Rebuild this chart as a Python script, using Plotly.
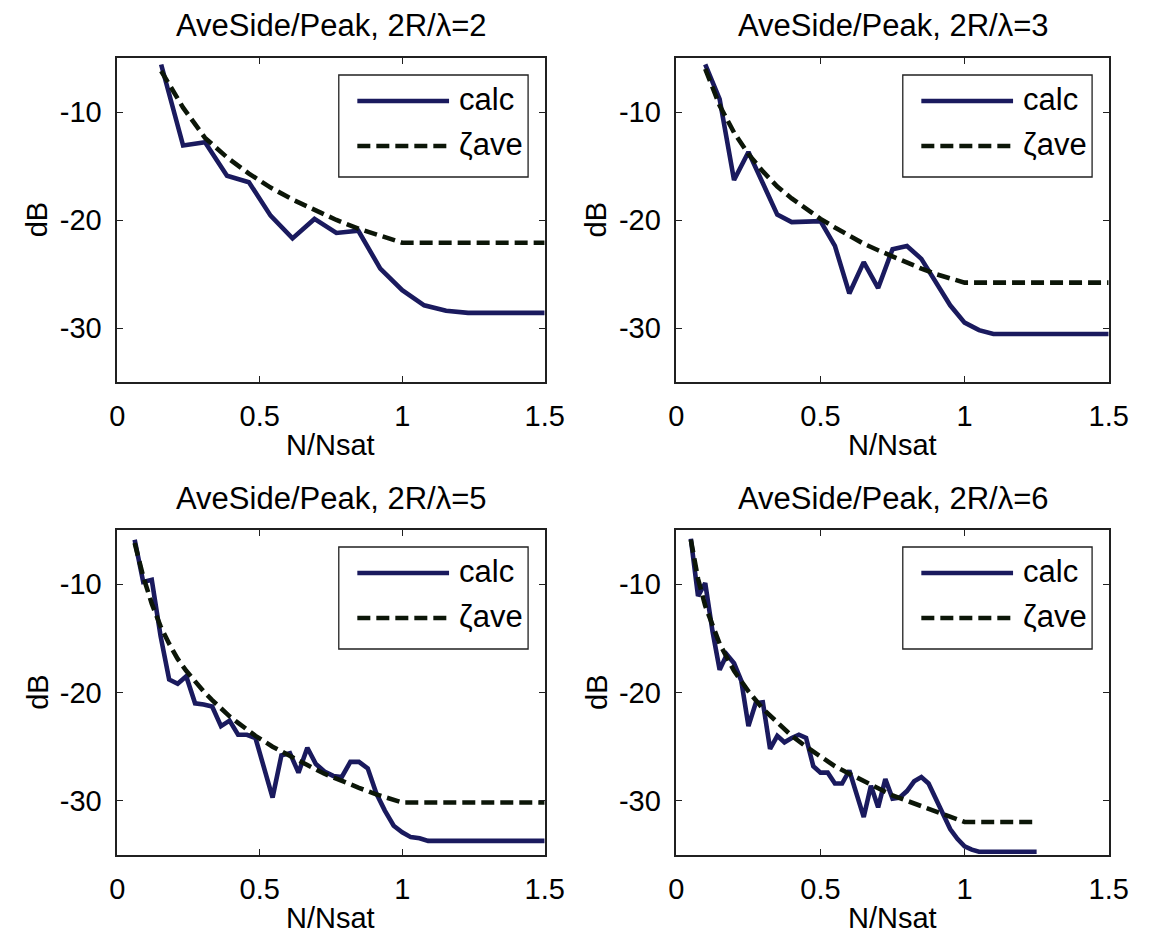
import plotly.graph_objects as go

# ---------------- data ----------------
titles = ["AveSide/Peak, 2R/λ=2", "AveSide/Peak, 2R/λ=3",
          "AveSide/Peak, 2R/λ=5", "AveSide/Peak, 2R/λ=6"]

# 2R/lambda = 2
x_r2 = [0.154, 0.231, 0.308, 0.385, 0.462, 0.538, 0.615, 0.692, 0.769, 0.846,
        0.923, 1.0, 1.077, 1.154, 1.231, 1.5]
calc_r2 = [-5.6, -13.1, -12.8, -15.9, -16.5, -19.6, -21.7, -19.9, -21.2, -21.0,
           -24.5, -26.5, -27.9, -28.4, -28.6, -28.6]
zx_r2 = [0.154, 0.231, 0.308, 0.385, 0.462, 0.538, 0.615, 0.692, 0.769, 0.846,
         0.923, 1.0, 1.5]
zeta_r2 = [-6.2, -9.6, -12.4, -14.2, -15.7, -17.0, -18.1, -19.1, -20.0, -20.8,
           -21.5, -22.1, -22.1]

# 2R/lambda = 3
x_r3 = [0.10, 0.15, 0.20, 0.25, 0.30, 0.35, 0.40, 0.45, 0.50, 0.55, 0.60, 0.65,
        0.70, 0.75, 0.80, 0.85, 0.90, 0.95, 1.00, 1.05, 1.10, 1.50]
calc_r3 = [-5.6, -8.8, -16.3, -13.7, -16.6, -19.5, -20.2, -20.2, -20.1, -22.4,
           -26.8, -23.9, -26.3, -22.7, -22.4, -23.6, -25.7, -27.9, -29.5, -30.2,
           -30.55, -30.55]
zx_r3 = [0.10, 0.15, 0.20, 0.25, 0.30, 0.35, 0.40, 0.45, 0.50, 0.55, 0.60, 0.65,
         0.70, 0.75, 0.80, 0.85, 0.90, 0.95, 1.00, 1.50]
zeta_r3 = [-6.0, -9.4, -11.9, -13.9, -15.5, -16.9, -18.0, -19.0, -19.9, -20.7,
           -21.5, -22.2, -22.8, -23.4, -23.9, -24.5, -25.0, -25.4, -25.8, -25.8]

# 2R/lambda = 5
x_r5 = [0.061, 0.091, 0.121, 0.152, 0.182, 0.212, 0.242, 0.273, 0.303, 0.333,
        0.364, 0.394, 0.424, 0.455, 0.485, 0.515, 0.545, 0.576, 0.606, 0.636,
        0.667, 0.697, 0.727, 0.758, 0.788, 0.818, 0.848, 0.879, 0.909, 0.939,
        0.970, 1.0, 1.030, 1.061, 1.091, 1.5]
calc_r5 = [-5.9, -9.8, -9.6, -14.8, -18.8, -19.2, -18.5, -21.0, -21.1, -21.3,
           -23.1, -22.6, -23.9, -23.9, -24.2, -26.8, -29.7, -25.8, -25.6, -27.4,
           -25.1, -26.6, -27.3, -27.7, -27.8, -26.4, -26.4, -27.0, -29.3, -30.9,
           -32.3, -32.9, -33.35, -33.45, -33.7, -33.7]
zx_r5 = [0.061, 0.091, 0.121, 0.152, 0.182, 0.212, 0.242, 0.273, 0.303, 0.333,
         0.364, 0.394, 0.424, 0.455, 0.485, 0.545, 0.606, 0.667, 0.727, 0.788,
         0.848, 0.909, 0.970, 1.0, 1.5]
zeta_r5 = [-6.2, -9.3, -11.8, -13.9, -15.5, -16.9, -18.0, -19.0, -19.9, -20.7,
           -21.5, -22.2, -22.8, -23.4, -24.0, -25.0, -25.9, -26.7, -27.5, -28.2,
           -28.8, -29.4, -29.95, -30.15, -30.15]

# 2R/lambda = 6
x_r6 = [0.050, 0.075, 0.100, 0.125, 0.150, 0.175, 0.200, 0.225, 0.250, 0.275,
        0.300, 0.325, 0.350, 0.375, 0.400, 0.425, 0.450, 0.475, 0.500, 0.525,
        0.550, 0.575, 0.600, 0.625, 0.650, 0.675, 0.700, 0.725, 0.750, 0.775,
        0.800, 0.825, 0.850, 0.875, 0.900, 0.925, 0.950, 0.975, 1.000, 1.025,
        1.050, 1.250]
calc_r6 = [-5.8, -11.1, -9.9, -14.3, -17.9, -16.5, -17.3, -18.9, -23.1, -21.0,
           -20.9, -25.2, -24.0, -24.6, -24.2, -23.9, -24.2, -26.8, -27.4, -27.4,
           -28.4, -28.4, -27.2, -29.4, -31.5, -28.6, -30.6, -28.0, -29.8, -29.7,
           -29.1, -28.2, -27.8, -28.4, -29.8, -31.4, -32.6, -33.5, -34.2, -34.5,
           -34.7, -34.7]
zx_r6 = [0.05, 0.075, 0.1, 0.125, 0.15, 0.2, 0.25, 0.3, 0.35, 0.4, 0.45, 0.5,
         0.55, 0.6, 0.65, 0.7, 0.75, 0.8, 0.85, 0.9, 0.95, 1.0, 1.25]
zeta_r6 = [-5.9, -9.5, -12.0, -13.9, -15.5, -18.0, -19.9, -21.5, -22.8, -24.0,
           -25.0, -25.9, -26.8, -27.5, -28.2, -28.9, -29.5, -30.0, -30.5, -31.0,
           -31.5, -31.95, -31.95]

x_ticks = [0, 0.5, 1, 1.5]
x_ticklabels = ["0", "0.5", "1", "1.5"]
y_ticks = [-30, -20, -10]
y_ticklabels = ["-30", "-20", "-10"]
legend_names = ["calc", "ζave"]
x_label = "N/Nsat"
y_label = "dB"

panels = [
    (x_r2, calc_r2, zx_r2, zeta_r2),
    (x_r3, calc_r3, zx_r3, zeta_r3),
    (x_r5, calc_r5, zx_r5, zeta_r5),
    (x_r6, calc_r6, zx_r6, zeta_r6),
]

# ---------------- layout geometry (pixels) ----------------
W, H = 1156, 937
cols = [(112, 550), (685, 1128)]
rows = [(58, 382), (530, 855)]
FONT = "Liberation Sans, Arial, Helvetica, sans-serif"
CALC_COLOR = "#1a1a5e"
ZETA_COLOR = "#0c1608"
AX_COLOR = "#202020"

fig = go.Figure()
annotations = []
shapes = []

for i, (xc, yc, xz, yz) in enumerate(panels):
    r, c = divmod(i, 2)
    L, R = cols[c]
    T, B = rows[r]
    sfx = "" if i == 0 else str(i + 1)
    xa, ya = "x" + sfx, "y" + sfx

    fig.add_trace(go.Scatter(x=xc, y=yc, mode="lines", xaxis=xa, yaxis=ya,
                             line=dict(color=CALC_COLOR, width=4.6),
                             showlegend=False, hoverinfo="skip"))
    fig.add_trace(go.Scatter(x=xz, y=yz, mode="lines", xaxis=xa, yaxis=ya,
                             line=dict(color=ZETA_COLOR, width=4.6, dash="13px,6px"),
                             showlegend=False, hoverinfo="skip"))

    axis_common = dict(ticks="inside", ticklen=6, tickwidth=1.3, tickcolor=AX_COLOR,
                       showline=True, linecolor=AX_COLOR, linewidth=1.5,
                       mirror="ticks", showgrid=False, zeroline=False,
                       tickfont=dict(family=FONT, size=29, color="black"))
    fig.layout["xaxis" + sfx] = dict(
        axis_common, domain=[L / W, R / W], anchor=ya, range=[0, 1.5],
        tickvals=x_ticks, ticktext=x_ticklabels, ticklabelstandoff=7)
    fig.layout["yaxis" + sfx] = dict(
        axis_common, domain=[1 - B / H, 1 - T / H], anchor=xa, range=[-35, -5],
        tickvals=y_ticks, ticktext=y_ticklabels, ticklabelstandoff=8)

    # title, axis labels
    annotations.append(dict(text=titles[i], x=(L + R) / 2 / W, y=1 - (T - 32) / H,
                            xref="paper", yref="paper", showarrow=False,
                            xanchor="center", yanchor="middle",
                            font=dict(family=FONT, size=31, color="black")))
    annotations.append(dict(text=x_label, x=(L + R) / 2 / W, y=1 - (B + 63) / H,
                            xref="paper", yref="paper", showarrow=False,
                            xanchor="center", yanchor="middle",
                            font=dict(family=FONT, size=29, color="black")))
    annotations.append(dict(text=y_label, x=(L - 82) / W, y=1 - (T + B) / 2 / H,
                            xref="paper", yref="paper", showarrow=False, textangle=-90,
                            xanchor="center", yanchor="middle",
                            font=dict(family=FONT, size=29, color="black")))

    # manual legend box
    def dx(px):
        return (px - L) / (R - L)

    def dy(py):
        return 1 - (py - T) / (B - T)

    bx0, bx1 = R - 17 - 194, R - 17
    by0, by1 = T + 17, T + 17 + 102
    xd, yd = xa + " domain", ya + " domain"
    shapes.append(dict(type="rect", xref=xd, yref=yd, x0=dx(bx0), x1=dx(bx1),
                       y0=dy(by0), y1=dy(by1), line=dict(color=AX_COLOR, width=1.3),
                       fillcolor="white", layer="above"))
    row_y = [by0 + 26, by0 + 71]
    styles = [dict(color=CALC_COLOR, width=4.6),
              dict(color=ZETA_COLOR, width=4.6, dash="13px,6px")]
    for k in range(2):
        shapes.append(dict(type="line", xref=xd, yref=yd, x0=dx(bx0 + 19),
                           x1=dx(bx0 + 113), y0=dy(row_y[k]), y1=dy(row_y[k]),
                           line=styles[k], layer="above"))
        annotations.append(dict(text=legend_names[k], xref=xd, yref=yd,
                                x=dx(bx0 + 121), y=dy(row_y[k] - 2), showarrow=False,
                                xanchor="left", yanchor="middle",
                                font=dict(family=FONT, size=31, color="black")))

fig.update_layout(width=W, height=H, margin=dict(l=0, r=0, t=0, b=0),
                  paper_bgcolor="white", plot_bgcolor="white",
                  showlegend=False, annotations=annotations, shapes=shapes)

fig.write_html("out.html")
